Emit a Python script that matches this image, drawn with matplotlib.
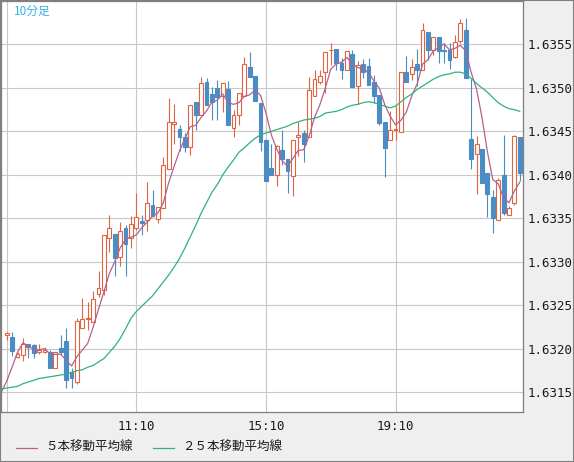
"""
USD-style 10-minute candlestick chart with 5- and 25-bar moving averages.
Japanese FX terminal look: white plot, grey side/bottom panels, price axis on the right.
"""
import matplotlib
matplotlib.use("Agg")
import matplotlib.pyplot as plt
from matplotlib.lines import Line2D
from matplotlib.patches import Rectangle
import numpy as np
import pandas as pd

plt.rcParams["font.family"] = ["DejaVu Sans Mono"]
JP = ["Noto Sans CJK JP", "DejaVu Sans"]

# ── data (10-minute bars from 07:10) ───────────────────────────────────────
opens = [
    1.63216, 1.63214, 1.63191, 1.63193, 1.63206, 1.63204, 1.63196, 1.63196, 1.63196, 1.63178, 1.63201, 1.63209,
    1.63174, 1.63162, 1.63224, 1.63234, 1.63231, 1.63263, 1.63268, 1.63328, 1.63332, 1.63306, 1.63339, 1.63327,
    1.63339, 1.63347, 1.63348, 1.63365, 1.63349, 1.63362, 1.63407, 1.63459, 1.63453, 1.63443, 1.63432, 1.63484,
    1.63469, 1.63507, 1.63493, 1.63500, 1.63491, 1.63499, 1.63454, 1.63469, 1.63491, 1.63524, 1.63514, 1.63483,
    1.63440, 1.63408, 1.63400, 1.63429, 1.63418, 1.63399, 1.63444, 1.63448, 1.63444, 1.63491, 1.63507, 1.63518,
    1.63543, 1.63545, 1.63529, 1.63521, 1.63539, 1.63502, 1.63527, 1.63525, 1.63507, 1.63492, 1.63461, 1.63440,
    1.63452, 1.63449, 1.63518, 1.63516, 1.63527, 1.63520, 1.63564, 1.63544, 1.63558, 1.63544, 1.63544, 1.63536,
    1.63554, 1.63567, 1.63441, 1.63424, 1.63430, 1.63402, 1.63375, 1.63348, 1.63400, 1.63354, 1.63368, 1.63443,
]
highs = [
    1.63219, 1.63220, 1.63196, 1.63212, 1.63206, 1.63206, 1.63206, 1.63202, 1.63199, 1.63197, 1.63216, 1.63224,
    1.63178, 1.63235, 1.63258, 1.63254, 1.63266, 1.63289, 1.63331, 1.63354, 1.63332, 1.63346, 1.63342, 1.63353,
    1.63379, 1.63354, 1.63392, 1.63383, 1.63363, 1.63420, 1.63488, 1.63481, 1.63457, 1.63448, 1.63480, 1.63484,
    1.63512, 1.63511, 1.63501, 1.63509, 1.63505, 1.63508, 1.63475, 1.63494, 1.63535, 1.63541, 1.63514, 1.63483,
    1.63440, 1.63435, 1.63434, 1.63452, 1.63418, 1.63440, 1.63461, 1.63451, 1.63512, 1.63521, 1.63521, 1.63541,
    1.63552, 1.63545, 1.63534, 1.63542, 1.63544, 1.63531, 1.63533, 1.63534, 1.63515, 1.63492, 1.63461, 1.63473,
    1.63479, 1.63518, 1.63537, 1.63533, 1.63545, 1.63575, 1.63564, 1.63558, 1.63558, 1.63551, 1.63551, 1.63561,
    1.63579, 1.63580, 1.63510, 1.63445, 1.63430, 1.63402, 1.63383, 1.63396, 1.63446, 1.63364, 1.63446, 1.63443,
]
lows = [
    1.63210, 1.63192, 1.63190, 1.63186, 1.63189, 1.63189, 1.63194, 1.63195, 1.63178, 1.63178, 1.63193, 1.63155,
    1.63155, 1.63160, 1.63224, 1.63222, 1.63231, 1.63260, 1.63262, 1.63311, 1.63284, 1.63295, 1.63284, 1.63316,
    1.63337, 1.63331, 1.63335, 1.63353, 1.63345, 1.63362, 1.63407, 1.63436, 1.63427, 1.63426, 1.63423, 1.63451,
    1.63469, 1.63480, 1.63463, 1.63463, 1.63472, 1.63457, 1.63443, 1.63457, 1.63491, 1.63513, 1.63485, 1.63428,
    1.63393, 1.63400, 1.63387, 1.63411, 1.63379, 1.63376, 1.63422, 1.63415, 1.63444, 1.63491, 1.63504, 1.63494,
    1.63526, 1.63520, 1.63510, 1.63521, 1.63501, 1.63482, 1.63511, 1.63503, 1.63483, 1.63457, 1.63397, 1.63440,
    1.63440, 1.63449, 1.63507, 1.63509, 1.63502, 1.63520, 1.63532, 1.63538, 1.63529, 1.63529, 1.63522, 1.63534,
    1.63551, 1.63511, 1.63407, 1.63378, 1.63391, 1.63352, 1.63333, 1.63348, 1.63354, 1.63354, 1.63365, 1.63393,
]
closes = [
    1.63218, 1.63198, 1.63194, 1.63206, 1.63202, 1.63195, 1.63199, 1.63199, 1.63178, 1.63197, 1.63197, 1.63164,
    1.63166, 1.63232, 1.63234, 1.63236, 1.63257, 1.63270, 1.63331, 1.63339, 1.63304, 1.63336, 1.63320, 1.63343,
    1.63352, 1.63345, 1.63368, 1.63353, 1.63363, 1.63411, 1.63461, 1.63461, 1.63443, 1.63432, 1.63480, 1.63469,
    1.63506, 1.63480, 1.63484, 1.63490, 1.63505, 1.63457, 1.63469, 1.63494, 1.63527, 1.63513, 1.63485, 1.63438,
    1.63393, 1.63400, 1.63433, 1.63418, 1.63404, 1.63440, 1.63446, 1.63436, 1.63498, 1.63510, 1.63514, 1.63541,
    1.63544, 1.63528, 1.63520, 1.63542, 1.63501, 1.63526, 1.63518, 1.63503, 1.63491, 1.63460, 1.63431, 1.63452,
    1.63453, 1.63518, 1.63507, 1.63524, 1.63520, 1.63567, 1.63544, 1.63558, 1.63542, 1.63542, 1.63532, 1.63553,
    1.63575, 1.63511, 1.63418, 1.63436, 1.63391, 1.63378, 1.63350, 1.63394, 1.63356, 1.63362, 1.63445, 1.63402,
]
# closes of the five bars before the window (they only feed the 5-bar average)
prior_closes = [1.63155, 1.63117, 1.63108, 1.63154, 1.63218]
# 25-bar average as shown, from one bar before the first candle
ma25 = [
    1.63154, 1.63155, 1.63156, 1.63157, 1.63160, 1.63162, 1.63164, 1.63166, 1.63167, 1.63168,
    1.63169, 1.63170, 1.63171, 1.63173, 1.63175, 1.63176, 1.63179, 1.63181, 1.63185, 1.63189,
    1.63196, 1.63203, 1.63212, 1.63223, 1.63235, 1.63243, 1.63249, 1.63255, 1.63261, 1.63269,
    1.63277, 1.63285, 1.63294, 1.63304, 1.63316, 1.63329, 1.63342, 1.63356, 1.63368, 1.63380,
    1.63389, 1.63400, 1.63409, 1.63417, 1.63426, 1.63431, 1.63437, 1.63442, 1.63446, 1.63448,
    1.63450, 1.63452, 1.63454, 1.63456, 1.63459, 1.63461, 1.63463, 1.63464, 1.63465, 1.63467,
    1.63471, 1.63472, 1.63473, 1.63475, 1.63478, 1.63480, 1.63481, 1.63483, 1.63484, 1.63483,
    1.63481, 1.63479, 1.63477, 1.63479, 1.63484, 1.63489, 1.63493, 1.63498, 1.63502, 1.63506,
    1.63510, 1.63513, 1.63515, 1.63516, 1.63518, 1.63518, 1.63516, 1.63511, 1.63505, 1.63500,
    1.63495, 1.63489, 1.63483, 1.63479, 1.63476, 1.63475, 1.63473,
]
price_ticks = [1.6315, 1.6320, 1.6325, 1.6330, 1.6335, 1.6340, 1.6345, 1.6350, 1.6355]
legend_labels = ["５本移動平均線", "２５本移動平均線"]
period_label = "10分足"

RED, BLUE = "#e0643f", "#4a8cc3"
MA5_C, MA25_C = "#b6618f", "#2fb27b"
GRID = "#c8c8c8"

# ── figure / axes, pixel-matched to 574 x 462 ──────────────────────────────
W, H = 574, 462
fig = plt.figure(figsize=(W / 100, H / 100), dpi=100, facecolor="#efefef")
ax = fig.add_axes([1 / W, 1 - 412 / H, 522 / W, 411 / H])
ax.set_facecolor("white")


def px(x, y):
    return x / W, 1 - y / H


o, h, l, c = (np.array(v) for v in (opens, highs, lows, closes))
xs = np.arange(len(o))
times = pd.date_range("2024-01-01 07:10", periods=len(o), freq="10min")
up = c >= o

# wicks, then bodies on top (hollow red = up, filled blue = down)
ax.vlines(xs[up], l[up], h[up], color=RED, lw=0.8, zorder=2)
ax.vlines(xs[~up], l[~up], h[~up], color=BLUE, lw=0.8, zorder=2)
body_lo = np.minimum(o, c)
body_h = np.maximum(np.abs(c - o), 0.000006)
ax.bar(xs[up], body_h[up], bottom=body_lo[up], width=0.72,
       facecolor="white", edgecolor=RED, lw=0.8, zorder=3)
ax.bar(xs[~up], body_h[~up], bottom=body_lo[~up], width=0.72,
       facecolor=BLUE, edgecolor=BLUE, lw=0.8, zorder=3)

# moving averages
ma5 = pd.Series(prior_closes + closes).rolling(5).mean().dropna().to_numpy()
ax.plot(np.arange(len(ma5)) - 1, ma5, color=MA5_C, lw=0.9, zorder=4)
ax.plot(np.arange(len(ma25)) - 1, ma25, color=MA25_C, lw=0.9, zorder=4)

# ── axes cosmetics ─────────────────────────────────────────────────────────
ax.set_xlim(-1.06, 95.6)
ax.set_ylim(1.631275, 1.635998)

tick_idx = [i for i, t in enumerate(times) if t.minute == 10 and t.hour % 4 == 3]
ax.set_xticks(tick_idx)
ax.set_xticklabels(["" if i == 0 else times[i].strftime("%H:%M") for i in tick_idx])
ax.set_yticks(price_ticks)
ax.set_yticklabels([f"{p:.4f}" for p in price_ticks])
ax.yaxis.tick_right()
ax.tick_params(axis="y", length=0, pad=3, labelsize=9, labelcolor="#1a1a1a")
ax.tick_params(axis="x", length=0, pad=6, labelsize=9, labelcolor="#1a1a1a")
ax.grid(True, color=GRID, lw=0.8, zorder=0)
ax.set_axisbelow(True)
for sp in ax.spines.values():
    sp.set_color("#7f7f7f")
    sp.set_linewidth(0.9)

ax.text(13 / 522, 1 - 10 / 411, period_label, transform=ax.transAxes,
        ha="left", va="center", fontsize=8.5, color="#38b2e4", family=JP)

# ── legend in the bottom panel ─────────────────────────────────────────────
for (x0, x1, tx), col, lab in zip([(16, 37, 45), (153, 174, 182)],
                                  [MA5_C, MA25_C], legend_labels):
    fig.add_artist(Line2D([x0 / W, x1 / W], [px(0, 447.5)[1]] * 2,
                          color=col, lw=0.9, transform=fig.transFigure))
    fig.text(*px(tx, 447.5), lab, ha="left", va="center",
             fontsize=9, color="#1a1a1a", family=JP)

fig.add_artist(Rectangle((0, 0), 1, 1, transform=fig.transFigure,
                         fill=False, ec="#7f7f7f", lw=1.5))

fig.savefig("out.png", dpi=100, facecolor=fig.get_facecolor())
plt.close(fig)
